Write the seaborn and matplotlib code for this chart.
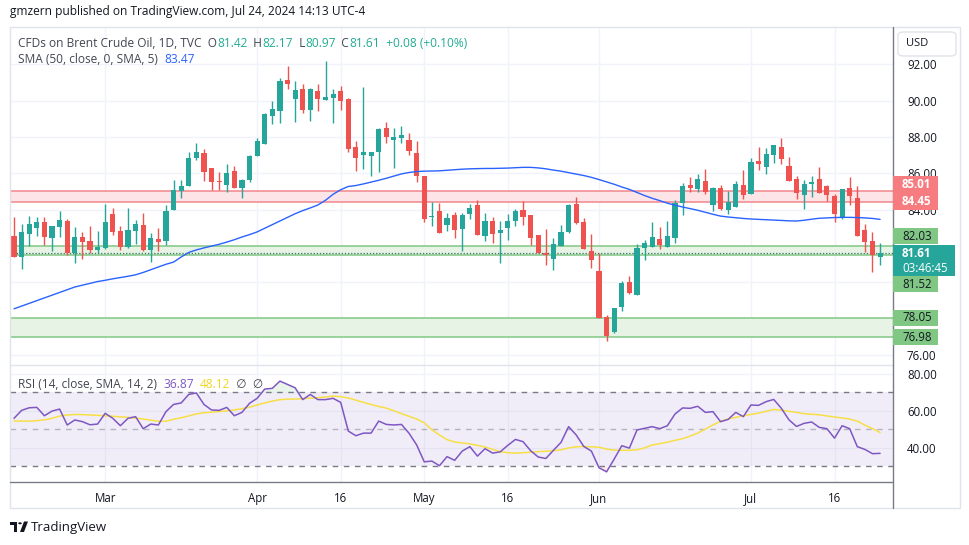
import numpy as np
import pandas as pd
import matplotlib
matplotlib.use("Agg")
import matplotlib.pyplot as plt
import seaborn as sns
from matplotlib.lines import Line2D
from matplotlib.patches import Rectangle, FancyBboxPatch, Circle, Polygon

sns.set_theme(style="white")
plt.rcParams['font.family'] = ['Open Sans', 'DejaVu Sans']

# Brent daily candles, 14 Feb - 24 Jul 2024
OPEN = [82.55, 81.40, 82.68, 83.01, 83.32, 82.46, 83.07, 83.38, 81.62, 82.50,
        82.28, 81.80, 81.89, 83.78, 82.83, 81.97, 82.83, 83.16, 81.79, 82.39,
        82.28, 83.98, 85.03, 85.30, 86.84, 87.12, 86.29, 85.58, 85.36, 86.13,
        85.21, 85.65, 86.95, 87.61, 89.17, 89.43, 91.14, 90.09, 90.64, 89.48,
        90.53, 90.04, 90.15, 90.53, 90.09, 87.45, 87.01, 86.95, 87.17, 88.50,
        87.83, 87.94, 87.83, 87.12, 85.85, 83.62, 83.93, 83.16, 83.71, 82.94,
        83.76, 84.26, 82.55, 83.38, 82.72, 82.99, 83.38, 83.98, 83.71, 82.61,
        81.62, 81.29, 82.00, 82.77, 84.31, 83.32, 81.73, 80.63, 78.10, 77.27,
        78.65, 80.02, 79.31, 81.89, 81.95, 82.39, 81.95, 82.44, 84.37, 85.36,
        85.14, 85.58, 84.26, 85.19, 83.98, 84.15, 85.36, 84.87, 86.68, 86.35,
        87.01, 87.45, 86.40, 85.69, 84.81, 85.42, 85.69, 85.30, 84.75, 83.60,
        85.20, 84.65, 82.89, 82.28, 81.42]
HIGH = [83.62, 83.21, 83.65, 83.62, 83.62, 83.10, 83.93, 83.49, 83.05, 82.77,
        83.10, 82.83, 84.33, 84.09, 83.12, 84.09, 83.43, 83.82, 82.72, 82.99,
        84.26, 85.63, 85.63, 87.17, 87.67, 87.34, 86.29, 86.09, 86.51, 86.40,
        85.69, 87.01, 87.94, 89.32, 89.98, 91.25, 91.92, 91.08, 90.92, 90.69,
        90.92, 92.18, 90.64, 90.80, 90.15, 87.78, 90.75, 87.17, 88.50, 88.82,
        88.50, 88.61, 88.22, 87.78, 85.85, 84.42, 84.37, 83.82, 83.87, 83.82,
        84.31, 84.53, 83.82, 83.60, 83.38, 83.76, 84.04, 84.48, 83.71, 82.61,
        82.94, 82.44, 83.16, 84.31, 84.70, 83.54, 82.66, 81.62, 78.21, 78.59,
        80.08, 80.35, 82.11, 82.33, 83.33, 83.05, 83.38, 84.54, 85.47, 85.80,
        85.96, 86.24, 85.25, 85.36, 85.03, 85.58, 86.19, 86.84, 87.45, 87.40,
        87.56, 87.94, 86.90, 85.86, 85.64, 85.86, 86.35, 85.36, 84.86, 85.14,
        85.80, 85.30, 83.21, 82.77, 82.17]
LOW = [81.40, 80.74, 82.00, 82.57, 82.06, 81.73, 82.48, 81.51, 81.09, 81.31,
       81.62, 81.62, 81.84, 82.59, 81.80, 81.91, 82.11, 81.73, 81.12, 81.73,
       82.06, 83.98, 84.66, 85.30, 86.73, 85.60, 85.08, 85.08, 84.97, 85.21,
       84.66, 85.54, 86.95, 87.61, 88.71, 88.79, 90.64, 88.82, 89.32, 88.90,
       89.43, 90.04, 88.77, 89.48, 87.17, 86.13, 86.24, 85.85, 86.07, 87.67,
       86.29, 87.67, 87.01, 85.52, 83.32, 83.10, 82.72, 82.83, 82.44, 81.73,
       83.49, 82.61, 82.28, 82.17, 81.07, 82.33, 83.10, 83.16, 82.06, 81.62,
       80.96, 80.69, 82.00, 82.72, 83.21, 81.84, 80.80, 78.04, 76.78, 77.22,
       78.43, 79.36, 79.31, 81.24, 81.95, 81.84, 81.95, 82.17, 83.71, 84.97,
       84.97, 84.87, 83.93, 83.98, 83.77, 84.15, 84.59, 84.87, 86.19, 85.96,
       86.57, 86.52, 85.58, 84.59, 84.04, 84.70, 84.92, 84.48, 83.33, 83.49,
       84.26, 82.55, 81.67, 80.57, 80.97]
CLOSE = [81.40, 82.77, 83.21, 83.32, 82.48, 83.10, 83.43, 81.62, 82.50, 82.24,
         81.79, 81.95, 83.32, 82.77, 81.97, 82.88, 83.21, 81.79, 82.44, 82.24,
         83.93, 85.08, 85.30, 86.84, 87.17, 86.09, 85.54, 85.52, 86.02, 85.21,
         85.65, 86.95, 87.78, 89.26, 89.54, 91.08, 90.92, 90.58, 89.48, 90.64,
         90.09, 90.20, 90.37, 89.98, 87.34, 86.84, 87.17, 87.17, 88.44, 88.00,
         88.00, 88.11, 87.23, 85.85, 83.49, 83.67, 82.72, 83.54, 82.88, 83.71,
         84.09, 82.61, 83.38, 82.66, 82.88, 83.38, 83.93, 83.60, 82.44, 81.62,
         81.51, 82.11, 82.77, 84.26, 83.27, 81.84, 81.24, 78.04, 77.05, 78.59,
         79.97, 79.42, 81.89, 82.17, 82.50, 82.06, 82.55, 84.37, 85.30, 85.20,
         85.69, 84.97, 85.19, 84.04, 84.42, 85.42, 84.81, 86.63, 86.52, 87.07,
         87.56, 86.79, 85.58, 84.92, 85.42, 85.52, 84.92, 84.81, 83.76, 85.14,
         84.75, 82.55, 82.23, 81.51, 81.61]
SMA50 = [78.55, 78.70, 78.85, 79.00, 79.15, 79.30, 79.45, 79.60, 79.75, 79.85,
         79.95, 80.05, 80.12, 80.20, 80.27, 80.34, 80.42, 80.55, 80.70, 80.85,
         81.00, 81.12, 81.40, 81.65, 81.79, 81.90, 82.00, 82.10, 82.22, 82.35,
         82.50, 82.63, 82.78, 82.98, 83.18, 83.38, 83.58, 83.78, 83.95, 84.10,
         84.26, 84.52, 84.85, 85.10, 85.28, 85.33, 85.42, 85.52, 85.62, 85.73,
         85.85, 85.97, 86.05, 86.10, 86.12, 86.13, 86.14, 86.17, 86.20, 86.23,
         86.25, 86.26, 86.27, 86.27, 86.28, 86.29, 86.31, 86.33, 86.33, 86.30,
         86.25, 86.18, 86.12, 86.04, 85.96, 85.88, 85.78, 85.66, 85.53, 85.40,
         85.25, 85.12, 84.95, 84.78, 84.63, 84.50, 84.36, 84.25, 84.15, 84.06,
         83.97, 83.86, 83.75, 83.65, 83.60, 83.56, 83.52, 83.49, 83.47, 83.45,
         83.43, 83.41, 83.39, 83.38, 83.42, 83.48, 83.53, 83.55, 83.57, 83.58,
         83.58, 83.57, 83.55, 83.52, 83.47]
RSI = [55.8, 60.1, 61.5, 61.7, 57.2, 59.7, 60.8, 52.2, 54.9, 54.0,
       52.3, 52.7, 58.5, 55.8, 51.8, 55.8, 56.7, 50.2, 52.7, 52.2,
       59.4, 63.3, 64.1, 68.7, 69.5, 63.3, 60.3, 60.1, 61.7, 57.2,
       59.0, 63.9, 66.6, 71.6, 72.0, 75.9, 74.1, 72.3, 65.9, 68.7,
       65.9, 65.9, 66.6, 64.4, 48.9, 46.4, 47.8, 47.8, 54.3, 52.5,
       52.2, 52.5, 47.7, 41.4, 32.3, 32.7, 30.2, 35.1, 33.1, 38.1,
       40.5, 35.4, 39.4, 37.0, 37.7, 41.2, 44.4, 43.2, 38.3, 34.9,
       34.1, 38.5, 42.8, 51.3, 46.8, 40.6, 38.1, 29.1, 26.9, 33.8,
       41.0, 39.7, 49.5, 50.4, 51.3, 50.2, 51.8, 58.1, 61.4, 61.2,
       62.3, 59.0, 59.4, 54.0, 55.2, 59.0, 56.7, 63.0, 62.8, 64.8,
       66.0, 61.2, 55.0, 51.4, 53.1, 53.8, 50.9, 50.2, 45.1, 51.8,
       50.2, 40.5, 39.0, 36.7, 36.87]
RSI_MA = [54.4, 54.3, 54.3, 54.5, 55.0, 55.8, 57.0, 57.6, 57.9, 57.8,
          57.6, 57.4, 57.2, 56.9, 56.6, 56.3, 55.9, 55.4, 54.8, 54.2,
          54.2, 55.3, 56.1, 57.1, 58.2, 58.8, 59.1, 59.5, 59.8, 60.3,
          61.0, 61.8, 63.0, 64.1, 65.1, 65.9, 66.1, 66.2, 66.4, 66.7,
          66.9, 67.3, 67.8, 67.5, 66.8, 65.6, 64.4, 63.3, 62.2, 61.3,
          59.9, 58.3, 56.9, 55.4, 53.4, 49.6, 46.8, 44.3, 43.0, 42.5,
          42.0, 41.2, 40.3, 39.0, 37.8, 37.2, 37.0, 37.2, 37.5, 37.8,
          38.0, 38.3, 38.8, 39.8, 40.4, 40.6, 40.4, 40.2, 39.2, 38.6,
          38.5, 38.5, 38.8, 39.8, 41.4, 42.1, 42.9, 43.9, 44.8, 46.2,
          47.8, 50.0, 52.2, 54.2, 55.5, 56.3, 57.2, 57.9, 58.6, 59.6,
          60.6, 60.2, 59.6, 59.0, 58.3, 58.0, 57.7, 57.1, 56.5, 56.0,
          55.4, 54.3, 52.1, 50.3, 48.12]

ZONE_RED = (84.45, 85.01)
ZONE_GREEN = [(81.52, 82.03), (76.98, 78.05)]
LAST_PRICE = 81.61
PRICE_TICKS = [76, 78, 80, 82, 84, 86, 88, 90, 92]
HIDDEN_TICKS = [78, 80, 82]   # covered by the level labels in the reference
TICK_DATES = ["2024-03-01", "2024-04-01", "2024-04-16", "2024-05-01",
              "2024-05-16", "2024-06-03", "2024-07-01", "2024-07-16"]
TICK_LABELS = ["Mar", "Apr", "16", "May", "16", "Jun", "Jul", "16"]

# trading days (Good Friday closed)
dates = pd.bdate_range("2024-02-14", "2024-07-24").drop(pd.Timestamp("2024-03-29"))
df = pd.DataFrame({"date": dates, "open": OPEN, "high": HIGH, "low": LOW,
                   "close": CLOSE, "sma": SMA50, "rsi": RSI, "rsi_ma": RSI_MA})
df["i"] = np.arange(len(df))
tick_pos = [int(np.where(dates == pd.Timestamp(d))[0][0]) for d in TICK_DATES]

UP, DOWN = "#26a69a", "#ef5350"
GRID = "#f0f3fa"
TXT = "#131722"
GRAY = "#434651"

W, H = 970, 545
fig = plt.figure(figsize=(W / 100, H / 100), dpi=100)
fig.patch.set_facecolor("white")


def fx(px):
    return px / W


def fy(py):
    return 1 - py / H


ax = fig.add_axes([fx(10), fy(365), fx(893) - fx(10), fy(27) - fy(365)])
ax2 = fig.add_axes([fx(10), fy(482), fx(893) - fx(10), fy(365) - fy(482)])

# ---- price pane
for a in (ax, ax2):
    for s in a.spines.values():
        s.set_visible(False)
    a.set_xlim(-0.53, 115.7)
    a.set_xticks(tick_pos)
    a.grid(True, color=GRID, lw=1)
    a.set_axisbelow(True)
    a.yaxis.tick_right()
    a.tick_params(axis="y", length=0, pad=10, labelsize=8.3, labelcolor=TXT)

ax.set_ylim(75.46, 94.05)
ax.set_yticks(PRICE_TICKS)
ax.set_yticklabels(["" if v in HIDDEN_TICKS else f"{v:.2f}" for v in PRICE_TICKS])
ax.tick_params(axis="x", labelbottom=False, length=0)

ax.axhspan(*ZONE_RED, facecolor="#fde4e6", edgecolor="none", zorder=1)
for v in ZONE_RED:
    ax.axhline(v, color="#f0868b", lw=1.1, zorder=2)
for lo, hi in ZONE_GREEN:
    ax.axhspan(lo, hi, facecolor="#e6f3e5", edgecolor="none", zorder=1)
    ax.axhline(lo, color="#81c784", lw=1.1, zorder=2)
    ax.axhline(hi, color="#81c784", lw=1.1, zorder=2)
ax.axhline(LAST_PRICE, color="#3b6f68", lw=0.9, ls=(0, (1, 1.5)), zorder=2)

up = df["close"] >= df["open"]
cols = np.where(up, UP, DOWN)
ax.vlines(df["i"], df["low"], df["high"], colors=cols, lw=1, zorder=3)
body = np.maximum((df["close"] - df["open"]).abs(), 0.05)
ax.bar(df["i"], body, bottom=np.minimum(df["open"], df["close"]), width=0.68,
       color=cols, linewidth=0, zorder=4)
sns.lineplot(x=df["i"], y=df["sma"], ax=ax, color="#2962ff", lw=1, zorder=5, legend=False)
ax.set_xlabel("")
ax.set_ylabel("")

# ---- RSI pane
ax2.set_ylim(21.4, 84.6)
ax2.set_yticks([40, 60, 80])
ax2.set_yticklabels(["40.00", "60.00", "80.00"])
ax2.axhspan(30, 70, color="#7e57c2", alpha=0.1, lw=0, zorder=1)
ax2.axhline(70, color="#787b86", lw=1, ls=(0, (4, 4)), zorder=2)
ax2.axhline(30, color="#787b86", lw=1, ls=(0, (4, 4)), zorder=2)
ax2.axhline(50, color="#787b86", lw=1, ls=(0, (4, 4)), alpha=0.5, zorder=2)
rsi = df["rsi"].to_numpy()
ax2.fill_between(df["i"], rsi, 70, where=rsi > 70, interpolate=True,
                 color="#4caf50", alpha=0.12, lw=0, zorder=2)
ax2.fill_between(df["i"], rsi, 30, where=rsi < 30, interpolate=True,
                 color="#f23645", alpha=0.12, lw=0, zorder=2)
sns.lineplot(x=df["i"], y=df["rsi_ma"], ax=ax2, color="#f7df45", lw=1.1, zorder=3, legend=False)
sns.lineplot(x=df["i"], y=df["rsi"], ax=ax2, color="#7e57c2", lw=1.1, zorder=4, legend=False)
ax2.set_xlabel("")
ax2.set_ylabel("")
ax2.set_xticklabels(TICK_LABELS)
ax2.tick_params(axis="x", length=0, pad=7, labelsize=8.3, labelcolor=TXT)

# ---- frame lines
frame = "#e0e3eb"
fig.add_artist(Rectangle((fx(10), fy(508)), fx(960) - fx(10), fy(27) - fy(508),
                         transform=fig.transFigure, fill=False, ec=frame, lw=1))
fig.add_artist(Line2D([fx(10), fx(893)], [fy(365), fy(365)], color=frame, lw=1))
fig.add_artist(Line2D([fx(10), fx(893)], [fy(482), fy(482)], color="#787b86", lw=1))
fig.add_artist(Line2D([fx(893), fx(893)], [fy(27), fy(508)], color="#787b86", lw=1))

# USD button
fig.add_artist(FancyBboxPatch((fx(898), fy(56)), fx(956) - fx(898), fy(32) - fy(56),
                              boxstyle="round,pad=0,rounding_size=0.006",
                              transform=fig.transFigure, fc="white", ec=frame, lw=1))
fig.text(fx(917), fy(44), "USD", fontsize=8, color=TXT, ha="center", va="center")

# ---- price labels on the axis
fig.canvas.draw()
renderer = fig.canvas.get_renderer()


def price_px(v):
    return H - ax.transData.transform((0, v))[1]


labels = [  # value, text, face, text colour, offset px, height px
    (85.01, "85.01", "#f77c80", "white", -7, 17),
    (84.45, "84.45", "#f77c80", "white", 0, 17),
    (82.03, "82.03", "#81c784", TXT, -9.5, 16),
    (81.52, "81.52", "#81c784", TXT, 29.6, 16),
    (78.05, "78.05", "#81c784", TXT, 0, 16),
    (76.98, "76.98", "#81c784", TXT, 0, 16),
]
for v, s, fc, tc, off, h in labels:
    yc = price_px(v) + off
    fig.add_artist(Rectangle((fx(893), fy(yc + h / 2)), fx(938) - fx(893), h / H,
                             transform=fig.transFigure, fc=fc, ec="none", zorder=10))
    fig.text(fx(902), fy(yc), s, fontsize=8.3, color=tc, ha="left", va="center",
             zorder=11, fontweight="bold" if tc == "white" else "normal")

yl = price_px(LAST_PRICE)
fig.add_artist(Rectangle((fx(893), fy(yl + 23)), fx(955) - fx(893), 31 / H,
                         transform=fig.transFigure, fc=UP, ec="none", zorder=10))
fig.text(fx(902), fy(yl), "81.61", fontsize=8.3, color="white", ha="left",
         va="center", zorder=11, fontweight="bold")
fig.text(fx(902), fy(yl + 15), "03:46:45", fontsize=8.3, color="white", ha="left",
         va="center", zorder=11)


# ---- legends
def write_parts(x, y, parts, size):
    for s, c in parts:
        t = fig.text(fx(x), fy(y), s, color=c, fontsize=size, ha="left", va="center", zorder=12)
        x += t.get_window_extent(renderer).width
    return x


GREEN_TXT = "#22ab94"
fig.text(fx(10), fy(12), "gmzern published on TradingView.com, Jul 24, 2024 14:13 UTC-4",
         fontsize=8.6, color=TXT, ha="left", va="center")
write_parts(18, 43, [("CFDs on Brent Crude Oil, 1D, TVC  O", GRAY), ("81.42", GREEN_TXT),
                     ("  H", GRAY), ("82.17", GREEN_TXT), ("  L", GRAY), ("80.97", GREEN_TXT),
                     ("  C", GRAY), ("81.61", GREEN_TXT), ("  +0.08 (+0.10%)", GREEN_TXT)], 8.6)
write_parts(18, 59, [("SMA (50, close, 0, SMA, 5)  ", GRAY), ("83.47", "#2962ff")], 8.6)
write_parts(18, 384, [("RSI (14, close, SMA, 14, 2)  ", GRAY), ("36.87", "#7e57c2"),
                      ("  ", GRAY), ("48.12", "#f2d51f"), ("  \u2205  \u2205", GRAY)], 8.6)

# ---- TradingView logo
logo = "#131722"
fig.add_artist(Rectangle((fx(10), fy(525)), 7 / W, 3.5 / H, transform=fig.transFigure, fc=logo, ec="none"))
fig.add_artist(Rectangle((fx(13.5), fy(532)), 3.5 / W, 10.5 / H, transform=fig.transFigure, fc=logo, ec="none"))
fig.add_artist(Circle((fx(20), fy(523.3)), 1.8 / W, transform=fig.transFigure, fc=logo, ec="none"))
fig.add_artist(Polygon([(fx(20), fy(532)), (fx(24), fy(521.5)), (fx(28), fy(521.5)), (fx(24), fy(532))],
                       closed=True, transform=fig.transFigure, fc=logo, ec="none"))
fig.text(fx(31), fy(527), "TradingView", fontsize=9.5, color=logo, ha="left", va="center")

fig.savefig("out.png", dpi=100, facecolor="white")
